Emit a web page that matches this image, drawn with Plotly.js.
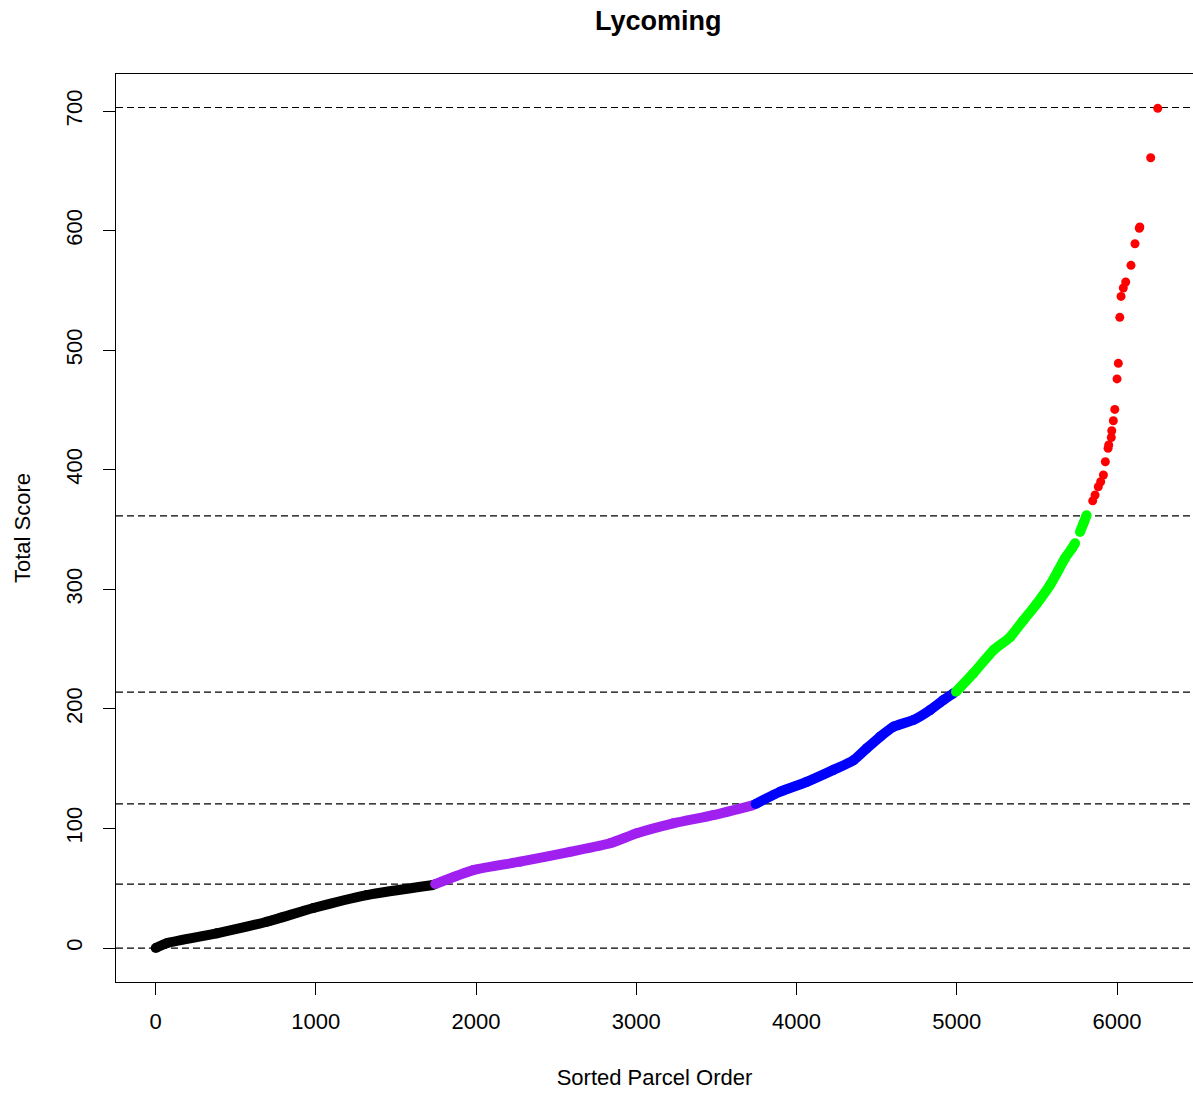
<!DOCTYPE html>
<html>
<head>
<meta charset="utf-8">
<script src="https://cdn.plot.ly/plotly-3.0.1.min.js"></script>
<style>html,body{margin:0;padding:0;background:#fff;}#chart{width:1193px;height:1093px;}</style>
</head>
<body>
<div id="chart"></div>
<script>
// Sorted parcel order (x) and total score (y), per class
const blackX  = [1, 70, 382, 694, 985, 1318, 1733];
const blackY  = [0, 4, 12.3, 22, 33.5, 44.3, 52.7];
const purpleX = [1745, 1983, 2275, 2587, 2836, 3003, 3231, 3481, 3731];
const purpleY = [53.5, 65.2, 72.2, 80.5, 87.6, 96, 104.3, 111.2, 119.6];
const blueX   = [3745, 3897, 4064, 4230, 4355, 4438, 4521, 4604, 4729, 4833, 4916, 4979];
const blueY   = [120.5, 130.7, 139, 149, 157, 167, 176.7, 185, 190.7, 199, 207.4, 213];
const greenX  = [4995, 5103, 5228, 5332, 5415, 5499, 5582, 5634, 5675, 5717, 5738, null, 5769, 5790, 5810];
const greenY  = [214.4, 229.7, 249, 260, 274, 288, 303.6, 316, 326, 334, 338.5, null, 348, 355, 362];
const redX    = [5848, 5863, 5883, 5898, 5915, 5927, 5944, 5948, 5964, 5967, 5977, 5986, 6000, 6008, 6017, 6025, 6039, 6054, 6087, 6112, 6139, 6142, 6210, 6254];
const redY    = [374, 378.9, 385.8, 390, 395.6, 406.7, 418, 420.7, 427, 432.6, 441, 450.5, 476, 489, 527.5, 545, 552, 557, 571, 589, 602, 603, 661, 702.3];
// class break values drawn as dashed horizontal lines
const breaks  = [0, 53.5, 120.5, 214, 361.5, 703];
const xTicks  = [0, 1000, 2000, 3000, 4000, 5000, 6000];
const yTicks  = [0, 100, 200, 300, 400, 500, 600, 700];

function seg(x, y, color) {
  return {
    x: x, y: y, type: 'scatter', mode: 'lines+markers',
    line: {color: color, width: 10, shape: 'spline', smoothing: 0.6},
    marker: {color: color, size: 10},
    connectgaps: false, hoverinfo: 'skip', showlegend: false
  };
}

const traces = [
  seg(blackX, blackY, '#000000'),
  seg(purpleX, purpleY, '#A020F0'),
  seg(blueX, blueY, '#0000FF'),
  seg(greenX, greenY, '#00FF00'),
  {x: redX, y: redY, type: 'scatter', mode: 'markers',
   marker: {color: '#FF0000', size: 9}, hoverinfo: 'skip', showlegend: false}
];

const shapes = breaks.map(b => ({
  type: 'line', xref: 'paper', x0: 0, x1: 1, yref: 'y', y0: b, y1: b,
  line: {color: '#000000', width: 1.2, dash: '7px,4px'}, layer: 'below'
}));

const font = {family: 'Liberation Sans, Arial, sans-serif', color: '#000000'};

const layout = {
  width: 1193, height: 1093,
  margin: {l: 116, r: 0, t: 74, b: 111, pad: 0},
  paper_bgcolor: '#ffffff', plot_bgcolor: '#ffffff',
  title: {text: '<b>Lycoming</b>', font: Object.assign({}, font, {size: 27}),
          x: 0.5035, xref: 'paper', xanchor: 'center', y: 1 - 21/1093, yref: 'container', yanchor: 'middle'},
  xaxis: {
    range: [-247, 6474], tickvals: xTicks, ticktext: xTicks.map(String),
    ticks: 'outside', ticklen: 12, tickwidth: 1, tickcolor: '#000', ticklabelstandoff: 7,
    showline: true, linecolor: '#000', linewidth: 1.3, mirror: true,
    showgrid: false, zeroline: false,
    tickfont: Object.assign({}, font, {size: 22}),
    title: {text: 'Sorted Parcel Order', font: Object.assign({}, font, {size: 22}), standoff: 37}
  },
  yaxis: {
    range: [-28.4, 731], tickvals: yTicks, ticktext: yTicks.map(String),
    ticks: 'outside', ticklen: 12, tickwidth: 1, tickcolor: '#000', tickangle: -90, ticklabelstandoff: 12,
    showline: true, linecolor: '#000', linewidth: 1.3, mirror: false,
    showgrid: false, zeroline: false,
    tickfont: Object.assign({}, font, {size: 22}),
    title: {text: 'Total Score', font: Object.assign({}, font, {size: 22}), standoff: 25}
  },
  shapes: shapes
};

Plotly.newPlot('chart', traces, layout, {displayModeBar: false, staticPlot: true});
</script>
</body>
</html>
